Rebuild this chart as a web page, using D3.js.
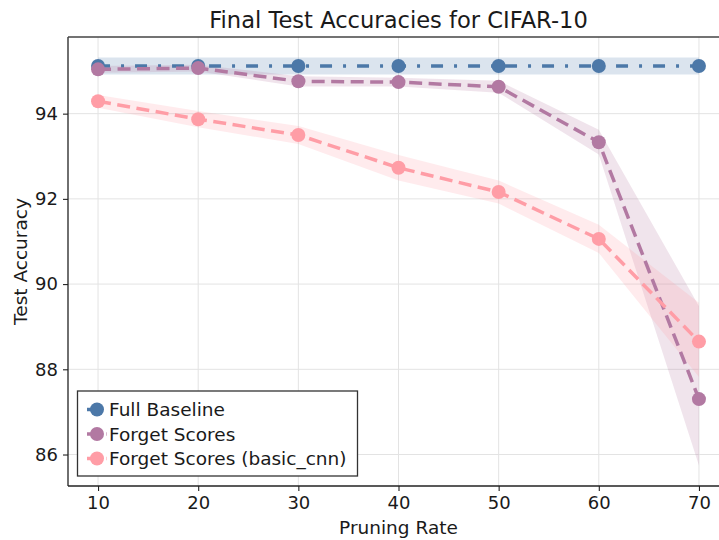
<!DOCTYPE html>
<html>
<head>
<meta charset="utf-8">
<script src="https://cdn.jsdelivr.net/npm/d3@7/dist/d3.min.js"></script>
<style>
  html, body { margin: 0; padding: 0; background: #fff; }
  svg { display: block; font-family: "DejaVu Sans", sans-serif; }
</style>
</head>
<body>
<svg id="chart" width="719" height="540"></svg>
<script>
// Pruning rates on the x axis
const pruningRates = [10, 20, 30, 40, 50, 60, 70];

// Full baseline: mean accuracy and its shaded range
const baselineMean = [95.12, 95.12, 95.12, 95.12, 95.12, 95.12, 95.12];
const baselineLo   = [94.92, 94.92, 94.92, 94.92, 94.92, 94.92, 94.92];
const baselineHi   = [95.32, 95.32, 95.32, 95.32, 95.32, 95.32, 95.32];

// Forget scores
const forgetMean = [95.04, 95.07, 94.76, 94.74, 94.63, 93.33, 87.30];
const forgetLo   = [94.96, 94.99, 94.64, 94.64, 94.49, 93.04, 85.74];
const forgetHi   = [95.12, 95.15, 94.88, 94.84, 94.77, 93.62, 89.48];

// Forget scores computed with basic_cnn
const cnnMean = [94.29, 93.87, 93.50, 92.73, 92.16, 91.06, 88.65];
const cnnLo   = [94.14, 93.68, 93.29, 92.43, 91.89, 90.73, 87.82];
const cnnHi   = [94.44, 94.06, 93.71, 93.03, 92.43, 91.39, 89.56];

const xTicks = [10, 20, 30, 40, 50, 60, 70];
const yTicks = [86, 88, 90, 92, 94];

const seriesNames  = ["Full Baseline", "Forget Scores", "Forget Scores (basic_cnn)"];
const seriesColors = ["#4c78a8", "#b279a2", "#ff9da6"];
const seriesDashes = ["12,11,3,11", "13,6.5", "13,6.5"];

const series = [
  { mean: baselineMean, lo: baselineLo, hi: baselineHi },
  { mean: forgetMean,   lo: forgetLo,   hi: forgetHi },
  { mean: cnnMean,      lo: cnnLo,      hi: cnnHi }
].map((s, i) => ({
  ...s,
  name: seriesNames[i],
  color: seriesColors[i],
  dash: seriesDashes[i],
  rows: pruningRates.map((x, j) => ({ x, y: s.mean[j], lo: s.lo[j], hi: s.hi[j] }))
}));

const svg = d3.select("#chart");
const plotLeft = 68, plotRight = 729, plotTop = 37, plotBottom = 486;

// Axis limits with 5% padding around the data, as a plotting library would
const xMin = d3.min(pruningRates), xMax = d3.max(pruningRates);
const xPad = (xMax - xMin) * 0.05;
const allLo = d3.min(series, s => d3.min(s.lo));
const allHi = d3.max(series, s => d3.max(s.hi));
const yPad = (allHi - allLo) * 0.05;

const x = d3.scaleLinear().domain([xMin - xPad, xMax + xPad]).range([plotLeft, plotRight]);
const y = d3.scaleLinear().domain([allLo - yPad, allHi + yPad]).range([plotBottom, plotTop]);

// Grid
const grid = svg.append("g");
grid.selectAll("line.vx").data(xTicks).join("line")
  .attr("x1", d => x(d)).attr("x2", d => x(d))
  .attr("y1", plotTop).attr("y2", plotBottom)
  .attr("stroke", "#e3e3e3").attr("stroke-width", 1);
grid.selectAll("line.hy").data(yTicks).join("line")
  .attr("x1", plotLeft).attr("x2", plotRight)
  .attr("y1", d => y(d)).attr("y2", d => y(d))
  .attr("stroke", "#e3e3e3").attr("stroke-width", 1);

const plot = svg.append("g");
const area = d3.area().x(d => x(d.x)).y0(d => y(d.lo)).y1(d => y(d.hi));
const line = d3.line().x(d => x(d.x)).y(d => y(d.y));

series.forEach(s => {
  plot.append("path")
    .attr("d", area(s.rows))
    .attr("fill", s.color).attr("fill-opacity", 0.2);
});

series.forEach(s => {
  plot.append("path")
    .attr("d", line(s.rows))
    .attr("fill", "none")
    .attr("stroke", s.color)
    .attr("stroke-width", 3.5)
    .attr("stroke-dasharray", s.dash);
  plot.selectAll(null).data(s.rows).join("circle")
    .attr("cx", d => x(d.x)).attr("cy", d => y(d.y))
    .attr("r", 7).attr("fill", s.color);
});

// Axes
const xAxis = svg.append("g")
  .attr("transform", `translate(0,${plotBottom})`)
  .call(d3.axisBottom(x).tickValues(xTicks).tickSize(5).tickPadding(5).tickFormat(d3.format("d")));
const yAxis = svg.append("g")
  .attr("transform", `translate(${plotLeft},0)`)
  .call(d3.axisLeft(y).tickValues(yTicks).tickSize(5).tickPadding(5).tickFormat(d3.format("d")));

[xAxis, yAxis].forEach(g => {
  g.select(".domain").attr("stroke", "#222").attr("stroke-width", 1.3);
  g.selectAll(".tick line").attr("stroke", "#222").attr("stroke-width", 1.1);
  g.selectAll(".tick text")
    .attr("fill", "#1a1a1a")
    .style("font-family", "DejaVu Sans, sans-serif")
    .style("font-size", "18px");
});
xAxis.select(".domain").attr("d", `M${plotLeft},0H${plotRight}`);
yAxis.select(".domain").attr("d", `M0,${plotTop}V${plotBottom}`);

// Top spine
svg.append("line")
  .attr("x1", plotLeft).attr("x2", plotRight).attr("y1", plotTop).attr("y2", plotTop)
  .attr("stroke", "#444").attr("stroke-width", 1.6);

// Title and axis labels
svg.append("text")
  .attr("x", (plotLeft + plotRight) / 2).attr("y", 28)
  .attr("text-anchor", "middle")
  .style("font-size", "22.6px").attr("fill", "#1a1a1a")
  .text("Final Test Accuracies for CIFAR-10");

svg.append("text")
  .attr("x", (plotLeft + plotRight) / 2).attr("y", 534)
  .attr("text-anchor", "middle")
  .style("font-size", "18.5px").attr("fill", "#1a1a1a")
  .text("Pruning Rate");

svg.append("text")
  .attr("transform", `translate(27,${(plotTop + plotBottom) / 2}) rotate(-90)`)
  .attr("text-anchor", "middle")
  .style("font-size", "18.5px").attr("fill", "#1a1a1a")
  .text("Test Accuracy");

// Legend
const legend = svg.append("g").attr("transform", "translate(77.5,391)");
legend.append("rect")
  .attr("width", 280).attr("height", 85)
  .attr("fill", "#fff").attr("stroke", "#333").attr("stroke-width", 1.3);
series.forEach((s, i) => {
  const cy = 18.5 + i * 24.5;
  legend.append("line")
    .attr("x1", 9.5).attr("x2", 29.5).attr("y1", cy).attr("y2", cy)
    .attr("stroke", s.color).attr("stroke-width", 3.5)
    .attr("stroke-dasharray", s.dash);
  legend.append("circle")
    .attr("cx", 19.5).attr("cy", cy).attr("r", 7).attr("fill", s.color);
  legend.append("text")
    .attr("x", 31.5).attr("y", cy).attr("dy", "0.36em")
    .style("font-size", "18.5px").attr("fill", "#1a1a1a")
    .text(s.name);
});
</script>
</body>
</html>
